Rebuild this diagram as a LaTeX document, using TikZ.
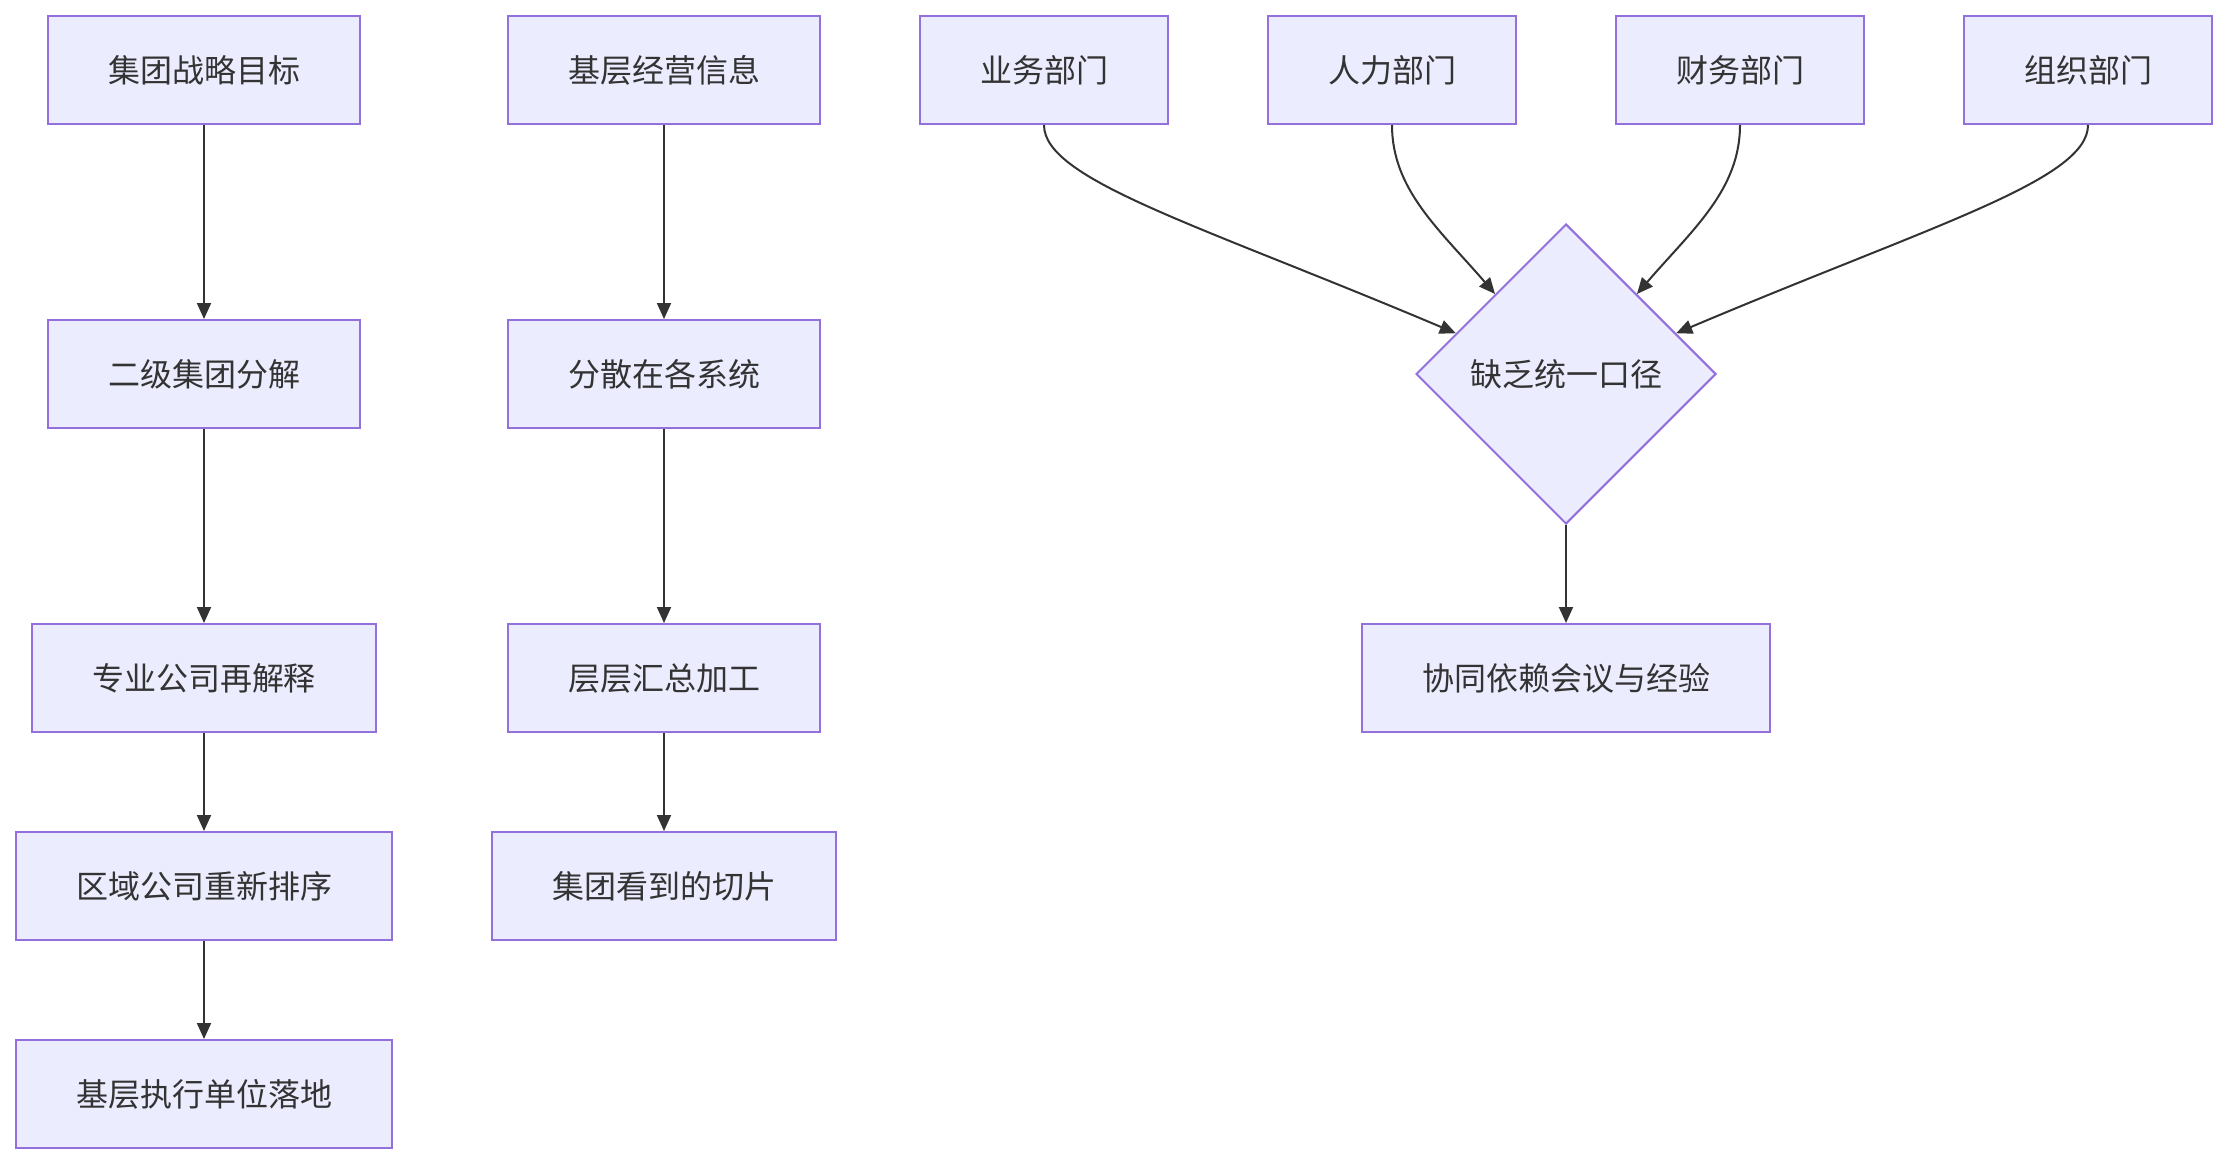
\documentclass[tikz,border=0pt]{standalone}
\usepackage{fontspec}
\newfontfamily\cjk{Noto Sans CJK SC}
\usetikzlibrary{shapes.geometric,arrows.meta,calc}
\definecolor{mmfill}{HTML}{ECECFF}
\definecolor{mmstroke}{HTML}{9370DB}
\definecolor{mmline}{HTML}{333333}
\tikzset{
  box/.style={draw=mmstroke, fill=mmfill, line width=2pt, minimum height=108pt,
    inner sep=0pt, text=mmline, font=\cjk\fontsize{32}{38}\selectfont},
  dia/.style={diamond, aspect=1, draw=mmstroke, fill=mmfill, line width=2pt,
    minimum width=300pt, minimum height=300pt, inner sep=0pt, text=mmline,
    font=\cjk\fontsize{32}{38}\selectfont},
  edge/.style={draw=mmline, line width=2pt, -{Triangle[length=16pt,width=14pt]}}
}
\begin{document}
\begin{tikzpicture}[x=1pt,y=-1pt]
\useasboundingbox[fill=white] (0,0) rectangle (2228,1164);
% column 1
\node[box, minimum width=312pt] (a1) at (204,70) {集团战略目标};
\node[box, minimum width=312pt] (a2) at (204,374) {二级集团分解};
\node[box, minimum width=344pt] (a3) at (204,678) {专业公司再解释};
\node[box, minimum width=376pt] (a4) at (204,886) {区域公司重新排序};
\node[box, minimum width=376pt] (a5) at (204,1094) {基层执行单位落地};
% column 2
\node[box, minimum width=312pt] (b1) at (664,70) {基层经营信息};
\node[box, minimum width=312pt] (b2) at (664,374) {分散在各系统};
\node[box, minimum width=312pt] (b3) at (664,678) {层层汇总加工};
\node[box, minimum width=344pt] (b4) at (664,886) {集团看到的切片};
% departments
\node[box, minimum width=248pt] (c1) at (1044,70) {业务部门};
\node[box, minimum width=248pt] (c2) at (1392,70) {人力部门};
\node[box, minimum width=248pt] (c3) at (1740,70) {财务部门};
\node[box, minimum width=248pt] (c4) at (2088,70) {组织部门};
\node[dia] (d) at (1566,374) {缺乏统一口径};
\node[box, minimum width=408pt] (e) at (1566,678) {协同依赖会议与经验};
% straight edges
\draw[edge] (a1.south) -- (a2.north);
\draw[edge] (a2.south) -- (a3.north);
\draw[edge] (a3.south) -- (a4.north);
\draw[edge] (a4.south) -- (a5.north);
\draw[edge] (b1.south) -- (b2.north);
\draw[edge] (b2.south) -- (b3.north);
\draw[edge] (b3.south) -- (b4.north);
\draw[edge] (d.south) -- (e.north);
% curved edges into diamond
\coordinate (t1) at ($(d.west)!0.27!(d.north)$);
\coordinate (t2) at ($(d.west)!0.53!(d.north)$);
\coordinate (t3) at ($(d.east)!0.53!(d.north)$);
\coordinate (t4) at ($(d.east)!0.27!(d.north)$);
\draw[edge] (c1.south) .. controls (1044,180) and (1200,225) .. (t1);
\draw[edge] (c2.south) .. controls (1392,190) and (1440,230) .. (t2);
\draw[edge] (c3.south) .. controls (1740,190) and (1692,230) .. (t3);
\draw[edge] (c4.south) .. controls (2088,180) and (1932,225) .. (t4);
\end{tikzpicture}
\end{document}
